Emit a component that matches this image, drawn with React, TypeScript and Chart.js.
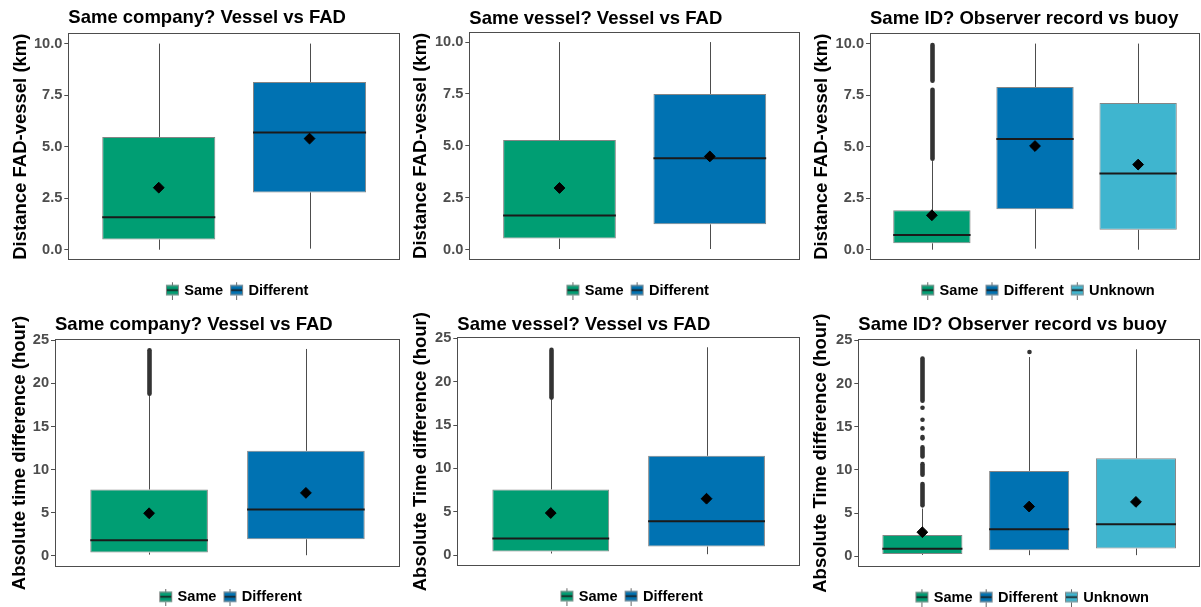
import React, { useEffect, useRef } from "react";
import { Chart, registerables } from "chart.js";

Chart.register(...registerables);
Chart.defaults.font.family = "'Liberation Sans', Arial, Helvetica, sans-serif";

// ---------- data ----------
const groupsTwo = ["Same", "Different"];
const groupsThree = ["Same", "Different", "Unknown"];
const groupColors = ["#009E73", "#0072B2", "#3FB5CF"];
const distanceTicks = [0, 2.5, 5, 7.5, 10];
const timeTicks = [0, 5, 10, 15, 20, 25];

// Same company? distance (km)
const companyDistLow = [0.0, 0.05];
const companyDistQ1 = [0.5, 2.78];
const companyDistMedian = [1.58, 5.69];
const companyDistQ3 = [5.47, 8.14];
const companyDistHigh = [10.0, 10.0];
const companyDistMean = [3.01, 5.39];
const companyDistOutliers: number[][][] = [[], []];

// Same vessel? distance (km)
const vesselDistLow = [0.03, 0.03];
const vesselDistQ1 = [0.53, 1.22];
const vesselDistMedian = [1.64, 4.4];
const vesselDistQ3 = [5.28, 7.5];
const vesselDistHigh = [10.0, 10.0];
const vesselDistMean = [2.97, 4.49];
const vesselDistOutliers: number[][][] = [[], []];

// Same ID? distance (km)
const idDistLow = [0.0, 0.05, 0.0];
const idDistQ1 = [0.31, 1.96, 0.97];
const idDistMedian = [0.71, 5.37, 3.7];
const idDistQ3 = [1.91, 7.89, 7.12];
const idDistHigh = [4.3, 10.0, 10.0];
const idDistMean = [1.67, 5.03, 4.13];
const idDistOutliers: number[][][] = [[[4.41, 7.76], [8.2, 9.93]], [], []];

// Same company? time (hour)
const companyTimeLow = [0.15, 0.08];
const companyTimeQ1 = [0.39, 1.93];
const companyTimeMedian = [1.82, 5.38];
const companyTimeQ3 = [7.7, 12.19];
const companyTimeHigh = [18.7, 24.0];
const companyTimeMean = [4.95, 7.31];
const companyTimeOutliers: number[][][] = [[[18.8, 23.85]], []];

// Same vessel? time (hour)
const vesselTimeLow = [0.19, 0.11];
const vesselTimeQ1 = [0.42, 1.0];
const vesselTimeMedian = [1.91, 3.91];
const vesselTimeQ3 = [7.58, 11.45];
const vesselTimeHigh = [18.0, 23.97];
const vesselTimeMean = [4.86, 6.51];
const vesselTimeOutliers: number[][][] = [[[18.17, 23.67]], []];

// Same ID? time (hour)
const idTimeLow = [0.15, 0.12, 0.12];
const idTimeQ1 = [0.27, 0.69, 0.89];
const idTimeMedian = [0.85, 3.13, 3.7];
const idTimeQ3 = [2.47, 9.88, 11.34];
const idTimeHigh = [5.52, 23.07, 23.96];
const idTimeMean = [2.78, 5.75, 6.29];
const idTimeOutliers: number[][][] = [
  [[5.89, 8.35], [9.43, 10.66], [11.55, 12.6], [13.65, 13.8], [14.8, 14.8], [15.8, 15.8], [17.2, 17.2], [18.0, 22.9]],
  [[23.65, 23.65]],
  [],
];

const titleCompany = "Same company? Vessel vs FAD";
const titleVessel = "Same vessel? Vessel vs FAD";
const titleId = "Same ID? Observer record vs buoy";
const yTitleDist = "Distance FAD-vessel (km)";
const yTitleTimeLower = "Absolute time difference (hour)";
const yTitleTimeUpper = "Absolute Time difference (hour)";

// ---------- layout (positions only) ----------
type Frame = {
  left: number; top: number; width: number; height: number;
  axisWidth: number; chartTop: number; chartBottom: number; titleMid: number; yTitleMid: number;
};

type PanelDef = {
  title: string; yTitle: string; groups: string[];
  low: number[]; q1: number[]; median: number[]; q3: number[]; high: number[]; mean: number[];
  outliers: number[][][]; ticks: number[]; decimals: number; yMin: number; yMax: number; frame: Frame;
};

const panels: PanelDef[] = [
  {
    title: titleCompany, yTitle: yTitleDist, groups: groupsTwo,
    low: companyDistLow, q1: companyDistQ1, median: companyDistMedian, q3: companyDistQ3, high: companyDistHigh, mean: companyDistMean,
    outliers: companyDistOutliers, ticks: distanceTicks, decimals: 1, yMin: -0.5, yMax: 10.5,
    frame: { left: 0, top: 0, width: 401, height: 320, axisWidth: 68.3, chartTop: 33.3, chartBottom: 260, titleMid: 18.3, yTitleMid: 22.5 },
  },
  {
    title: titleVessel, yTitle: yTitleDist, groups: groupsTwo,
    low: vesselDistLow, q1: vesselDistQ1, median: vesselDistMedian, q3: vesselDistQ3, high: vesselDistHigh, mean: vesselDistMean,
    outliers: vesselDistOutliers, ticks: distanceTicks, decimals: 1, yMin: -0.5, yMax: 10.5,
    frame: { left: 400, top: 0, width: 401, height: 320, axisWidth: 69.3, chartTop: 31.7, chartBottom: 260, titleMid: 19.3, yTitleMid: 22.5 },
  },
  {
    title: titleId, yTitle: yTitleDist, groups: groupsThree,
    low: idDistLow, q1: idDistQ1, median: idDistMedian, q3: idDistQ3, high: idDistHigh, mean: idDistMean,
    outliers: idDistOutliers, ticks: distanceTicks, decimals: 1, yMin: -0.5, yMax: 10.5,
    frame: { left: 800, top: 0, width: 401, height: 320, axisWidth: 70, chartTop: 33.3, chartBottom: 260, titleMid: 18.8, yTitleMid: 24 },
  },
  {
    title: titleCompany, yTitle: yTitleTimeLower, groups: groupsTwo,
    low: companyTimeLow, q1: companyTimeQ1, median: companyTimeMedian, q3: companyTimeQ3, high: companyTimeHigh, mean: companyTimeMean,
    outliers: companyTimeOutliers, ticks: timeTicks, decimals: 0, yMin: -1.25, yMax: 25.12,
    frame: { left: 0, top: 305, width: 401, height: 320, axisWidth: 55, chartTop: 34.3, chartBottom: 261.7, titleMid: 20.2, yTitleMid: 21.5 },
  },
  {
    title: titleVessel, yTitle: yTitleTimeUpper, groups: groupsTwo,
    low: vesselTimeLow, q1: vesselTimeQ1, median: vesselTimeMedian, q3: vesselTimeQ3, high: vesselTimeHigh, mean: vesselTimeMean,
    outliers: vesselTimeOutliers, ticks: timeTicks, decimals: 0, yMin: -1.25, yMax: 25.12,
    frame: { left: 400, top: 305, width: 401, height: 320, axisWidth: 57.3, chartTop: 32.3, chartBottom: 261, titleMid: 20.2, yTitleMid: 22.5 },
  },
  {
    title: titleId, yTitle: yTitleTimeUpper, groups: groupsThree,
    low: idTimeLow, q1: idTimeQ1, median: idTimeMedian, q3: idTimeQ3, high: idTimeHigh, mean: idTimeMean,
    outliers: idTimeOutliers, ticks: timeTicks, decimals: 0, yMin: -1.25, yMax: 25.12,
    frame: { left: 800, top: 305, width: 401, height: 320, axisWidth: 58.3, chartTop: 34.3, chartBottom: 262, titleMid: 19.8, yTitleMid: 23 },
  },
];

const TITLE_SIZE = 18.5;
const TICK_SIZE = 14.6;
const LEGEND_SIZE = 14.6;
const LEGEND_PAD = 1;
const X_AXIS_GAP = 30.6 - LEGEND_PAD - LEGEND_SIZE / 2;
const LEGEND_HEIGHT = LEGEND_SIZE + LEGEND_PAD + 10;
const BOX_EDGE = "#858585";

function makeGlyph(color: string): HTMLCanvasElement {
  const c = document.createElement("canvas");
  c.width = 23;
  c.height = 18;
  const g = c.getContext("2d")!;
  g.strokeStyle = "#666";
  g.lineWidth = 1;
  g.beginPath();
  g.moveTo(15.5, 0);
  g.lineTo(15.5, 4);
  g.moveTo(15.5, 14);
  g.lineTo(15.5, 18);
  g.stroke();
  g.fillStyle = color;
  g.fillRect(9, 3.5, 13, 10);
  g.strokeStyle = BOX_EDGE;
  g.strokeRect(9.5, 4, 12, 9);
  g.strokeStyle = "#1a1a1a";
  g.lineWidth = 1.6;
  g.beginPath();
  g.moveTo(10, 8.5);
  g.lineTo(21, 8.5);
  g.stroke();
  return c;
}

function boxParts(p: PanelDef) {
  return {
    id: "boxParts",
    beforeDatasetsDraw(chart: any) {
      const { ctx, scales } = chart;
      const x = scales.x;
      const y = scales.y;
      ctx.save();
      ctx.strokeStyle = "#4d4d4d";
      ctx.lineWidth = 1;
      p.groups.forEach((_, i) => {
        const px = Math.round(x.getPixelForValue(i + 1)) + 0.5;
        ctx.beginPath();
        ctx.moveTo(px, y.getPixelForValue(p.low[i]));
        ctx.lineTo(px, y.getPixelForValue(p.q1[i]));
        ctx.moveTo(px, y.getPixelForValue(p.q3[i]));
        ctx.lineTo(px, y.getPixelForValue(p.high[i]));
        ctx.stroke();
      });
      ctx.strokeStyle = "#333333";
      ctx.fillStyle = "#333333";
      ctx.lineWidth = 4.6;
      ctx.lineCap = "round";
      p.outliers.forEach((bands, i) => {
        const px = Math.round(x.getPixelForValue(i + 1)) + 0.5;
        bands.forEach(([a, b]) => {
          const pa = y.getPixelForValue(a);
          const pb = y.getPixelForValue(b);
          ctx.beginPath();
          if (Math.abs(pa - pb) < 0.5) {
            ctx.arc(px, pa, 2.3, 0, Math.PI * 2);
            ctx.fill();
          } else {
            ctx.moveTo(px, pa);
            ctx.lineTo(px, pb);
            ctx.stroke();
          }
        });
      });
      ctx.restore();
    },
    afterDatasetDraw(chart: any, args: any) {
      if (args.meta.type !== "bar") return;
      const { ctx, scales } = chart;
      const y = scales.y;
      ctx.save();
      ctx.strokeStyle = "#1a1a1a";
      ctx.lineWidth = 2;
      args.meta.data.forEach((el: any, i: number) => {
        const { x: cx, width } = el.getProps(["x", "width"], true);
        const my = y.getPixelForValue(p.median[i]);
        ctx.beginPath();
        ctx.moveTo(cx - width / 2, my);
        ctx.lineTo(cx + width / 2, my);
        ctx.stroke();
      });
      ctx.restore();
    },
    afterDraw(chart: any) {
      const { ctx, chartArea } = chart;
      ctx.save();
      ctx.strokeStyle = "#4d4d4d";
      ctx.lineWidth = 1;
      const l = Math.round(chartArea.left) + 0.5;
      const t = Math.round(chartArea.top) + 0.5;
      const r = Math.round(chartArea.right) - 0.5;
      const b = Math.round(chartArea.bottom) - 0.5;
      ctx.strokeRect(l, t, r - l, b - t);
      ctx.restore();
    },
  };
}

function BoxPanel({ p }: { p: PanelDef }) {
  const ref = useRef<HTMLCanvasElement>(null);
  const f = p.frame;
  useEffect(() => {
    if (!ref.current) return;
    const glyphs = p.groups.map((_, i) => makeGlyph(groupColors[i]));
    const titlePadTop = f.titleMid - (TITLE_SIZE * 1.2) / 2;
    const titlePadBottom = f.chartTop - TITLE_SIZE * 1.2 - titlePadTop;
    const padBottom = f.height - f.chartBottom - X_AXIS_GAP - LEGEND_HEIGHT;
    const chart = new Chart(ref.current, {
      type: "bar",
      data: {
        datasets: [
          {
            type: "scatter",
            label: "mean",
            data: p.groups.map((_, i) => ({ x: i + 1, y: p.mean[i] })),
            pointStyle: "rectRot",
            pointRadius: 5.4,
            pointBackgroundColor: "#000",
            pointBorderColor: "#000",
            pointBorderWidth: 1,
          } as any,
          {
            type: "bar",
            label: "box",
            data: p.groups.map((_, i) => ({ x: i + 1, y: [p.q1[i], p.q3[i]] })),
            backgroundColor: p.groups.map((_, i) => groupColors[i]),
            borderColor: BOX_EDGE,
            borderWidth: 1,
            borderSkipped: false,
            categoryPercentage: 0.75,
            barPercentage: 1,
          } as any,
        ],
      },
      options: {
        responsive: false,
        animation: false,
        events: [],
        layout: { autoPadding: false, padding: { top: 0, left: 0, right: 1, bottom: padBottom } },
        scales: {
          x: {
            type: "linear",
            offset: false,
            min: 0.4,
            max: p.groups.length + 0.6,
            ticks: { display: false },
            grid: { display: false, offset: false },
            border: { display: false },
            afterBuildTicks: (s: any) => {
              s.ticks = p.groups.map((_, i) => ({ value: i + 1 }));
            },
            afterFit: (s: any) => {
              s.height = X_AXIS_GAP;
            },
          },
          y: {
            type: "linear",
            min: p.yMin,
            max: p.yMax,
            afterBuildTicks: (s: any) => {
              s.ticks = p.ticks.map((v) => ({ value: v }));
            },
            afterFit: (s: any) => {
              s.width = f.axisWidth;
            },
            ticks: {
              callback: (v: any) => Number(v).toFixed(p.decimals),
              color: "#4d4d4d",
              font: { size: TICK_SIZE, weight: "bold" },
              padding: 2,
            },
            grid: {
              display: true,
              drawOnChartArea: false,
              drawTicks: true,
              tickLength: 4,
              tickColor: "#4d4d4d",
              tickWidth: 1,
            },
            border: { display: false },
            title: {
              display: true,
              text: p.yTitle,
              color: "#000",
              font: { size: TITLE_SIZE, weight: "bold" },
              padding: { top: f.yTitleMid - (TITLE_SIZE * 1.2) / 2 - 1.8, bottom: 0 },
            },
          },
        },
        plugins: {
          title: {
            display: true,
            text: p.title,
            align: "start",
            fullSize: false,
            color: "#000",
            font: { size: TITLE_SIZE, weight: "bold" },
            padding: { top: titlePadTop, bottom: titlePadBottom },
          },
          legend: {
            display: true,
            position: "bottom",
            fullSize: false,
            align: "center",
            labels: {
              usePointStyle: true,
              pointStyleWidth: 17,
              padding: LEGEND_PAD,
              color: "#000",
              font: { size: LEGEND_SIZE, weight: "bold" },
              generateLabels: () =>
                p.groups.map((g, i) => ({
                  text: g,
                  pointStyle: glyphs[i],
                  fillStyle: groupColors[i],
                  strokeStyle: BOX_EDGE,
                  lineWidth: 0,
                  hidden: false,
                  datasetIndex: 1,
                  index: i,
                  fontColor: "#000",
                  rotation: 0,
                })),
            },
          },
          tooltip: { enabled: false },
        },
      } as any,
      plugins: [boxParts(p)],
    });
    return () => chart.destroy();
  }, []);
  return (
    <canvas
      ref={ref}
      width={f.width}
      height={f.height}
      style={{ position: "absolute", left: f.left, top: f.top, width: f.width, height: f.height }}
    />
  );
}

export default function App() {
  return (
    <div
      style={{
        position: "absolute",
        left: 0,
        top: 0,
        width: 1201,
        height: 607,
        overflow: "hidden",
        background: "#ffffff",
      }}
    >
      {panels.map((p, i) => (
        <BoxPanel key={i} p={p} />
      ))}
    </div>
  );
}
